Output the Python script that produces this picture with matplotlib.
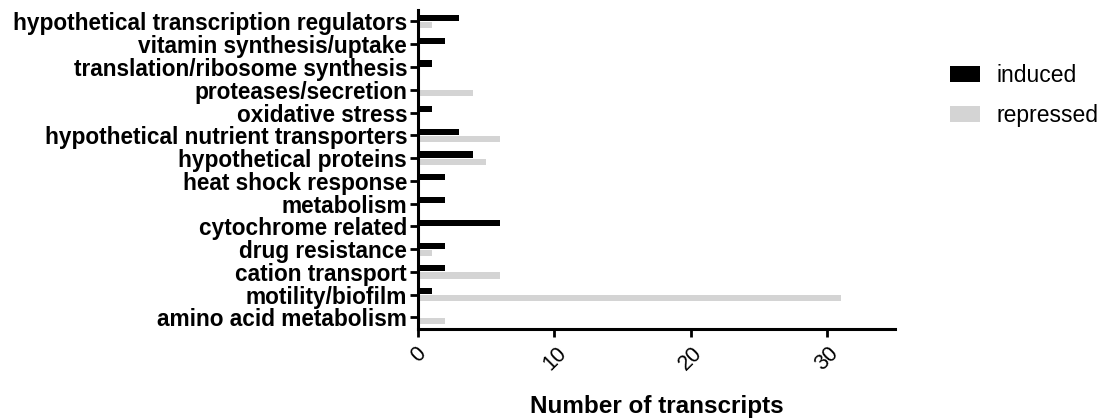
import matplotlib
matplotlib.use("Agg")
import matplotlib.pyplot as plt
import numpy as np

categories = [
    "hypothetical transcription regulators",
    "vitamin synthesis/uptake",
    "translation/ribosome synthesis",
    "proteases/secretion",
    "oxidative stress",
    "hypothetical nutrient transporters",
    "hypothetical proteins",
    "heat shock response",
    "metabolism",
    "cytochrome related",
    "drug resistance",
    "cation transport",
    "motility/biofilm",
    "amino acid metabolism",
]
induced = [3, 2, 1, 0, 1, 3, 4, 2, 2, 6, 2, 2, 1, 0]
repressed = [1, 0, 0, 4, 0, 6, 5, 0, 0, 0, 1, 6, 31, 2]
xticks = [0, 10, 20, 30]

plt.rcParams['font.family'] = ['Liberation Sans', 'DejaVu Sans']

fig = plt.figure(figsize=(11.15, 4.2), dpi=100)
ax = fig.add_axes([0.375, 0.217, 0.428, 0.759])

n = len(categories)
y = np.arange(n)[::-1].astype(float)
h = 0.27
ax.barh(y + h / 2 + 0.02, induced, height=h, color="#000000", label="induced")
ax.barh(y - h / 2 - 0.02, repressed, height=h, color="#d4d4d4", label="repressed")

ax.set_ylim(-0.5, n - 0.5)
ax.set_xlim(0, 35)
ax.set_yticks(y)
ax.set_yticklabels(categories, fontsize=16.3, fontweight="bold")
ax.set_xticks(xticks)
ax.set_xticklabels([str(t) for t in xticks], rotation=45, fontsize=15.5,
                   ha="center", va="top")
ax.tick_params(axis="y", length=6, width=2, pad=2)
ax.tick_params(axis="x", length=6, width=2, pad=4)

for s in ["top", "right"]:
    ax.spines[s].set_visible(False)
for s in ["left", "bottom"]:
    ax.spines[s].set_linewidth(2.2)

ax.set_xlabel("Number of transcripts", fontsize=17.5, fontweight="bold", labelpad=15)

ax.legend(loc="upper left", bbox_to_anchor=(1.072, 0.895), frameon=False,
          fontsize=16.5, handlelength=1.3, handleheight=0.7, labelspacing=0.72,
          handletextpad=0.7)

fig.savefig("out.png", dpi=100)
